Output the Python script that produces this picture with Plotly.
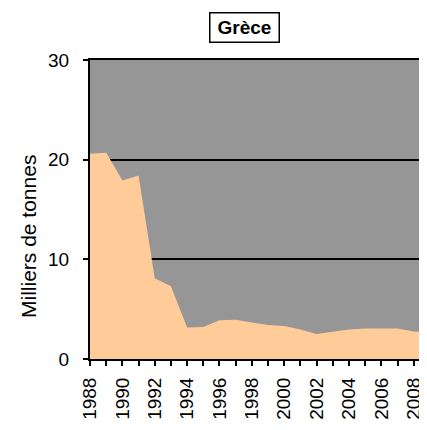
import plotly.graph_objects as go

years = list(range(1988, 2010))
values = [20.6, 20.7, 17.9, 18.4, 8.1, 7.3, 3.15, 3.2, 3.9, 3.95, 3.65, 3.4,
          3.3, 2.97, 2.5, 2.75, 2.95, 3.05, 3.05, 3.05, 2.75, 2.7]
tick_years = list(range(1988, 2010, 2))
tick_labels = [str(y) for y in tick_years]
title_text = "Grèce"
y_title = "Milliers de tonnes"

FONT = "Liberation Sans, Arial, sans-serif"

fig = go.Figure()
fig.add_trace(go.Scatter(
    x=years, y=values, mode="lines", fill="tozeroy",
    fillcolor="#FFCC99", line=dict(color="#FFCC99", width=0),
    hoverinfo="skip", showlegend=False, cliponaxis=True,
))

# page body has an 8px margin, so the figure is shifted by 8px
fig.update_layout(
    width=419, height=414, autosize=False,
    margin=dict(l=82, r=0, t=52, b=63, pad=0, autoexpand=False),
    paper_bgcolor="white", plot_bgcolor="#969696",
    font=dict(family=FONT, size=19, color="black"),
    showlegend=False,
)
fig.update_xaxes(
    range=[1988, 2008.82], tickmode="array", tickvals=tick_years, ticktext=tick_labels,
    tickangle=-90, ticks="outside", ticklen=5, tickwidth=1.5, tickcolor="black",
    minor=dict(dtick=1, tick0=1988, ticks="outside", ticklen=5, tickwidth=1.5, tickcolor="black", showgrid=False),
    showgrid=False, zeroline=False, showline=True, linecolor="black", linewidth=2,
    mirror=True, automargin=False,
    tickfont=dict(size=19, family=FONT), ticklabelstandoff=4,
)
fig.update_yaxes(
    range=[0, 30], tickvals=[0, 10, 20, 30], ticks="outside", ticklen=5, tickwidth=1.5,
    tickcolor="black", showgrid=True, gridcolor="black", gridwidth=1.5,
    zeroline=False, showline=True, linecolor="black", linewidth=2, automargin=False,
    tickfont=dict(size=19, family=FONT), ticklabelstandoff=10,
)

plot_w = 419 - 82
fig.add_annotation(
    text="<b>" + title_text + "</b>", xref="paper", yref="paper",
    x=(244.5 - 90) / plot_w, y=(359 - 27) / 299, xanchor="center", yanchor="middle",
    showarrow=False, font=dict(size=19, family=FONT, color="black"),
    bordercolor="black", borderwidth=1.5, borderpad=4, bgcolor="white",
    width=60, height=20,
)
fig.add_annotation(
    text=y_title, xref="paper", yref="paper",
    x=(28 - 90) / plot_w, y=(359 - 237) / 299, xanchor="center", yanchor="middle",
    textangle=-90, showarrow=False, font=dict(size=21, family=FONT, color="black"),
)

fig.write_html("out.html")
